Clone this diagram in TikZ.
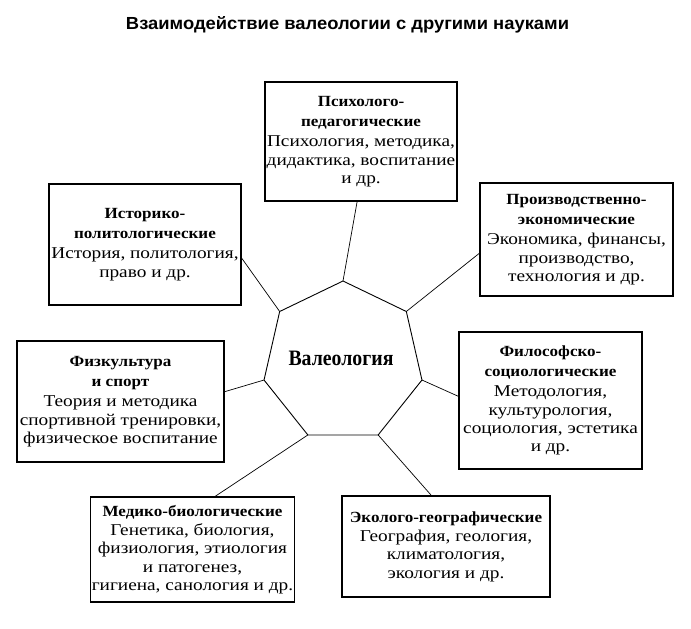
\documentclass[tikz,border=0pt]{standalone}
\usepackage{fontspec}
\setmainfont{Liberation Serif}[FakeStretch=1.17]
\newfontfamily\hdfont{Liberation Serif}[FakeStretch=1.1]
\newfontfamily\valfont{Liberation Serif}[FakeStretch=0.9]
\newfontfamily\titlefont{Liberation Sans}
\usetikzlibrary{calc}
\newcommand{\hd}[1]{{\hdfont\fontsize{15.5}{18.3}\selectfont\bfseries #1}}
\tikzset{
  box/.style={draw, line width=1.1pt, align=center, inner sep=1pt,
    font=\fontsize{16.5}{18.3}\selectfont},
  link/.style={line width=0.7pt},
  hept/.style={line width=0.9pt},
}
\begin{document}
\begin{tikzpicture}[x=1pt,y=-1pt]
\useasboundingbox (0,0) rectangle (691,629);
\node[anchor=base] (title) at (347.5,29) {\resizebox{443pt}{13pt}{\titlefont\bfseries Взаимодействие валеологии с другими науками}};
% heptagon
\foreach \k in {0,...,6} {
  \coordinate (v\k) at ($(343,362)+({90+\k*360/7}:81 and -81)$);
}
\draw[hept] (v0) -- (v1) -- (v2) -- (v3) -- (v4) -- (v5) -- (v6) -- cycle;
\node[font=\valfont\fontsize{22}{26}\selectfont\bfseries] (val) at (341,358) {Валеология};
% boxes
\node[box, minimum width=192pt, minimum height=119pt] (psy) at (361,141.5)
  {\hd{Психолого-}\\[2pt]\hd{педагогические}\\[2pt]Психология, методика,\\дидактика, воспитание\\и др.};
\node[box, minimum width=192pt, minimum height=121pt] (hist) at (145,244.5)
  {\hd{Историко-}\\[2pt]\hd{политологические}\\[2pt]История, политология,\\право и др.};
\node[box, minimum width=193pt, minimum height=113pt] (econ) at (576.5,239.5)
  {\hd{Производственно-}\\[2pt]\hd{экономические}\\[2pt]Экономика, финансы,\\производство,\\технология и др.};
\node[box, minimum width=207pt, minimum height=121pt] (fiz) at (120.5,401.5)
  {\hd{Физкультура}\\[2pt]\hd{и спорт}\\[2pt]Теория и методика\\спортивной тренировки,\\физическое воспитание};
\node[box, minimum width=183pt, minimum height=137pt] (phil) at (550.5,400.5)
  {\hd{Философско-}\\[2pt]\hd{социологические}\\[2pt]Методология,\\культурология,\\социология, эстетика\\и др.};
\node[box, minimum width=199pt, minimum height=105pt] (med) at (192.5,549.5)
  {\hd{Медико-биологические}\\[1pt]Генетика, биология,\\физиология, этиология\\и патогенез,\\гигиена, санология и др.};
\node[box, minimum width=208pt, minimum height=101pt] (eco) at (446,546.5)
  {\hd{Эколого-географические}\\[1pt]География, геология,\\климатология,\\экология и др.};
% connector end points on box borders
\coordinate (psyc) at ($(psy.south west)!0.48!(psy.south east)$);
\coordinate (histc) at ($(hist.north east)!0.61!(hist.south east)$);
\coordinate (econc) at ($(econ.north west)!0.62!(econ.south west)$);
\coordinate (fizc) at ($(fiz.north east)!0.42!(fiz.south east)$);
\coordinate (philc) at ($(phil.north west)!0.47!(phil.south west)$);
\coordinate (medc) at ($(med.north west)!0.61!(med.north east)$);
\coordinate (ecoc) at ($(eco.north west)!0.43!(eco.north east)$);
\draw[link] (v0) -- (psyc);
\draw[link] (v1) -- (histc);
\draw[link] (v6) -- (econc);
\draw[link] (v2) -- (fizc);
\draw[link] (v5) -- (philc);
\draw[link] (v3) -- (medc);
\draw[link] (v4) -- (ecoc);
\end{tikzpicture}
\end{document}
